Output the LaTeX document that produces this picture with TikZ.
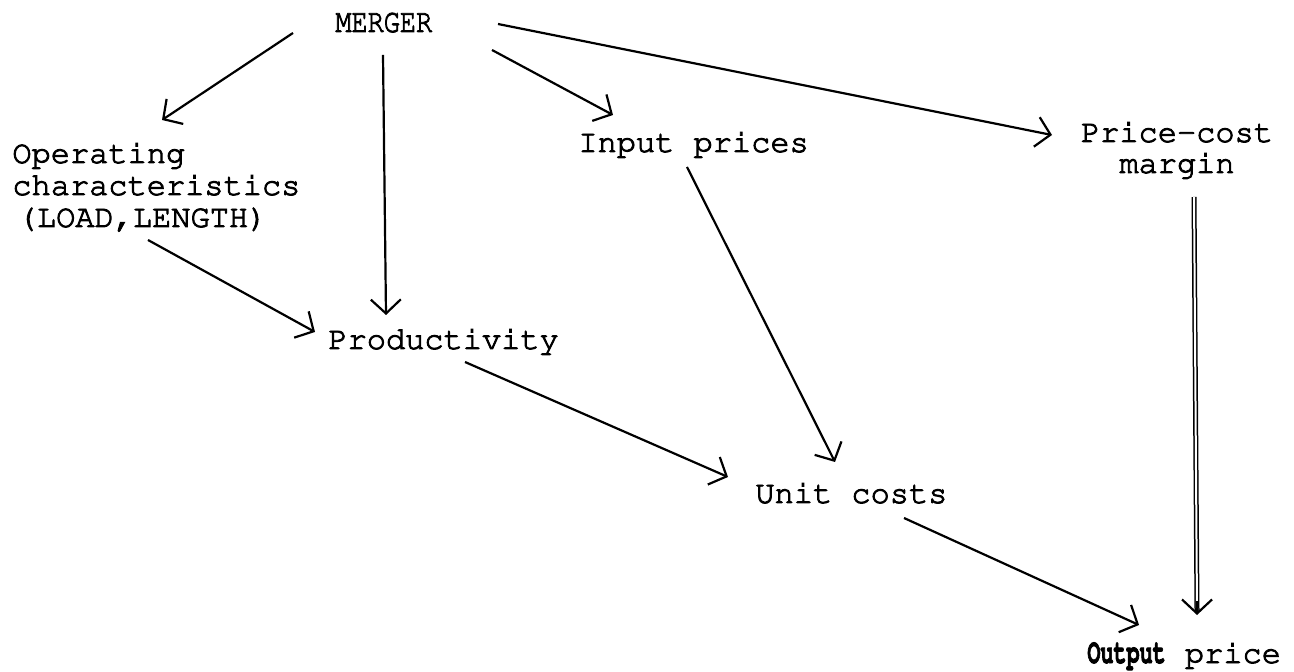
\documentclass[tikz,border=0pt]{standalone}
\usepackage[T1]{fontenc}
\usepackage{graphicx}
\usetikzlibrary{arrows.meta}
\newcommand\tw{\fontfamily{pcr}\fontsize{16}{16}\selectfont\special{pdf:literal 2 Tr 0.45 w}}
\tikzset{
  lbl/.style={inner sep=0pt, font=\tw},
  arr/.style={line width=1.1pt, -{Straight Barb[length=7pt,width=15pt,line width=1.1pt]}},
  dbl/.style={double, double distance=1pt, line width=0.75pt}
}
\begin{document}
\begin{tikzpicture}[x=0.5pt,y=-0.5pt]
    \useasboundingbox (0,0) rectangle (1294,672);
    \node[lbl, anchor=base west] (merger) at (335,32) {\scalebox{0.84}[1.04]{MERGER}};
    \node[lbl, anchor=base west, align=left] (oper) at (12,227) {Operating\\characteristics\\\,(LOAD,LENGTH)};
    \node[lbl, anchor=base west] (input) at (578,152) {Input prices};
    \node[lbl, anchor=base, align=center, font=\tw\fontsize{16}{15.5}\selectfont] (pcm) at (1177,173) {Price-cost\\margin};
    \node[lbl, anchor=base west] (prod) at (328,349) {Productivity};
    \node[lbl, anchor=base west] (unit) at (755,503) {Unit costs};
    \node[lbl, anchor=base west] (output) at (1087,663) {\scalebox{0.68}[1.08]{\bfseries Output} price};
    \draw[arr] ([shift={(-42,1)}]merger.base west) -- ([shift={(150,-107)}]oper.base west);
    \draw[arr] ([shift={(48,23)}]merger.base west) -- ([shift={(58,-34)}]prod.base west);
    \draw[arr] ([shift={(157,18)}]merger.base west) -- ([shift={(35,-37)}]input.base west);
    \draw[arr] ([shift={(163,-8)}]merger.base west) -- ([shift={(-125,-38)}]pcm.base);
    \draw[arr] ([shift={(136,13)}]oper.base west) -- ([shift={(-13,-17)}]prod.base west);
    \draw[arr] ([shift={(137,13)}]prod.base west) -- ([shift={(-27,-26)}]unit.base west);
    \draw[arr] ([shift={(109,15)}]input.base west) -- ([shift={(80,-41)}]unit.base west);
    \draw[arr] ([shift={(149,15)}]unit.base west) -- ([shift={(52,-38)}]output.base west);
    \draw[dbl] ([shift={(17,24)}]pcm.base) -- ([shift={(110,-52)}]output.base west);
    \draw[arr] ([shift={(110,-62)}]output.base west) -- ([shift={(110,-48)}]output.base west);
  \end{tikzpicture}
\end{document}
